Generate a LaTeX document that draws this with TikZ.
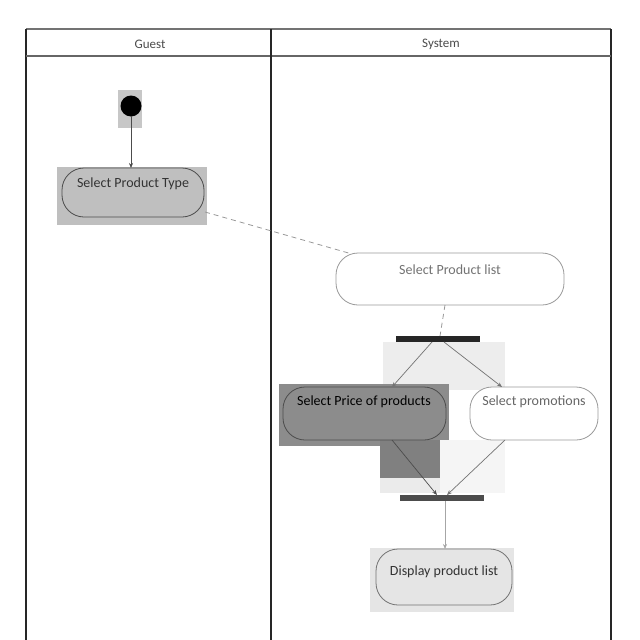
\documentclass[tikz,border=0pt]{standalone}
\usepackage{fontspec}
\setmainfont{Carlito}
\usetikzlibrary{arrows.meta}
\begin{document}
\begin{tikzpicture}[x=1pt,y=-1pt,
  lane/.style={draw=black!85,line width=1.6pt},
  head/.style={font=\fontsize{13}{15}\selectfont,text=black!70},
  act/.style={draw=black!70,line width=0.8pt,rounded corners=22pt},
  label/.style={font=\fontsize{14}{16}\selectfont,text=black!80},
  bar/.style={fill=black!85,draw=none},
  flow/.style={draw=black!55,line width=0.7pt,-{Stealth[length=5pt,width=4pt]}},
  link/.style={draw=black!40,line width=0.8pt,dash pattern=on 5pt off 4pt}]
\useasboundingbox (0,0) rectangle (640,640);
\fill[white] (0,0) rectangle (640,640);

% swimlane frame
\draw[lane,draw=black!55] (26,29) -- (611,29);
\draw[lane] (26,640) -- (26,29);
\draw[lane] (611,29) -- (611,640);
\draw[lane,line width=1.2pt,draw=black!60] (26,56) -- (611,56);
\draw[lane] (271,29) -- (271,640);
\node[head] (hguest) at (150,44) {Guest};
\node[head] (hsys) at (441,44) {System};

% highlight patches behind selected elements
\fill[black!22] (118,90) rectangle (142,128);
\fill[black!25] (57,167) rectangle (207,225);
\fill[black!7] (383,342) rectangle (505,390);
\fill[black!45] (279,384) rectangle (449,446);
\fill[black!50] (380,440) rectangle (440,478);
\fill[black!8] (380,478) rectangle (440,493);
\fill[black!4] (440,440) rectangle (505,493);
\fill[black!10] (370,548) rectangle (514,612);

% initial node
\node[circle,fill=black,minimum size=21pt,inner sep=0pt] (start) at (131,106) {};

% activities
\draw[act,fill=black!25] (62,168) rectangle (204,217);
\node[label] (tspt) at (133,184) {Select Product Type};

\draw[act,fill=white,draw=black!40] (336,253) rectangle (564,305);
\node[label,text=black!55] (tspl) at (450,270) {Select Product list};

\draw[act,fill=black!45] (283,387) rectangle (446,440);
\node[label,text=black] (tspp) at (364,402) {Select Price of products};

\draw[act,fill=white,draw=black!40] (470,387) rectangle (598,440);
\node[label,text=black!60] (tspr) at (534,402) {Select promotions};

\draw[act,fill=black!10,draw=black!55] (376,549) rectangle (512,605);
\node[label] (tdpl) at (444,572) {Display product list};

% fork and join bars
\fill[bar] (396,336) rectangle (480,342);
\fill[bar,fill=black!70] (400,495) rectangle (484,501);

% connector end points
\coordinate (startB) at (131,116);
\coordinate (sptT) at (131,168);
\coordinate (sptR) at (205,212);
\coordinate (splTL) at (352,254);
\coordinate (splB) at (445,305);
\coordinate (forkT) at (440,336);
\coordinate (forkL) at (432,342);
\coordinate (forkR) at (444,342);
\coordinate (sppT) at (392,387);
\coordinate (sprT) at (502,387);
\coordinate (sppB) at (392,440);
\coordinate (sprB) at (505,440);
\coordinate (joinTL) at (437,495);
\coordinate (joinTR) at (447,495);
\coordinate (joinB) at (445,501);
\coordinate (dplT) at (445,549);

% transitions
\draw[flow,draw=black!70] (startB) -- (sptT);
\draw[link] (sptR) -- (splTL);
\draw[link] (splB) -- (forkT);
\draw[flow] (forkL) -- (sppT);
\draw[flow] (forkR) -- (sprT);
\draw[flow,draw=black!70] (sppB) -- (joinTL);
\draw[flow] (sprB) -- (joinTR);
\draw[flow,draw=black!35] (joinB) -- (dplT);
\end{tikzpicture}
\end{document}
